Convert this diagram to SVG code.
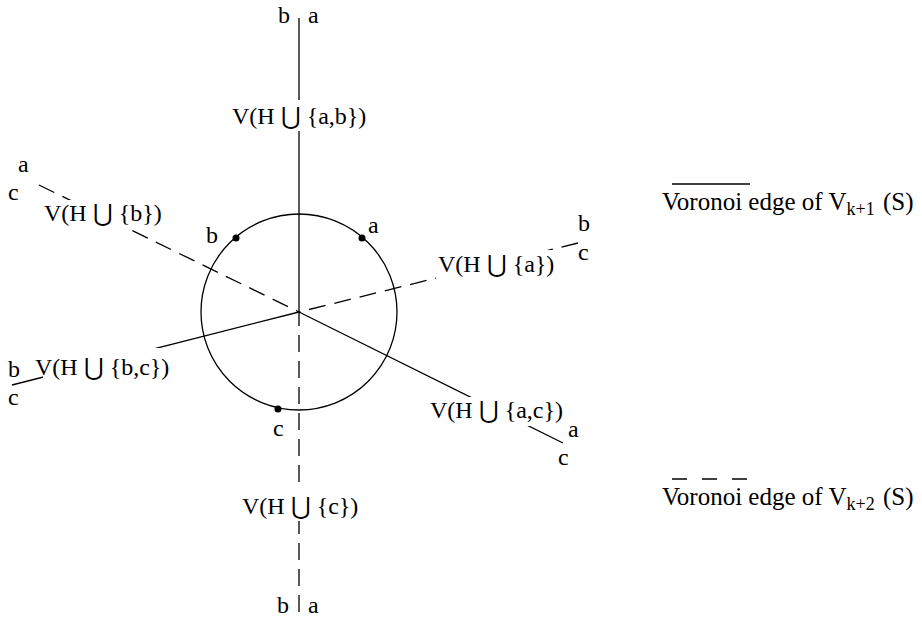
<svg xmlns="http://www.w3.org/2000/svg" width="922" height="618" viewBox="0 0 922 618">
<style>
.t{font-family:'Liberation Serif','Times New Roman',serif;font-size:24px;fill:#000}
.u{font-family:'DejaVu Serif',serif;font-size:24px}
.lg{font-size:25px}
.sub{font-size:18px}
.solid{stroke:#000;stroke-width:1.3;fill:none}
.dash{stroke:#000;stroke-width:1.3;fill:none;stroke-dasharray:17 9}
.mask{fill:#fff;stroke:none}
</style>
<rect width="922" height="618" fill="#fff"/>
<g id="connectors">
<line class="solid" x1="299" y1="18" x2="299" y2="312"/>
<line class="dash" x1="299" y1="612" x2="299" y2="312"/>
<line class="dash" x1="39" y1="185" x2="299" y2="312"/>
<line class="dash" x1="578" y1="243" x2="299" y2="312"/>
<line class="solid" x1="12" y1="385" x2="299" y2="312"/>
<line class="solid" x1="563" y1="443" x2="299" y2="312"/>
</g>
<g id="circle">
<circle class="solid" cx="299" cy="312" r="98"/>
<circle cx="362" cy="238" r="3.5"/>
<circle cx="236" cy="238" r="3.5"/>
<circle cx="278" cy="409" r="3.5"/>
<text class="t" x="368" y="233">a</text>
<text class="t" x="206" y="243">b</text>
<text class="t" x="273" y="436">c</text>
</g>
<g id="label-ab">
<rect class="mask" x="230" y="100" width="138" height="31"/>
<text class="t" x="232" y="124">V(H <tspan class="u">⋃</tspan> {a,b})</text>
<text class="t" x="278" y="23">b</text>
<text class="t" x="308" y="23">a</text>
</g>
<g id="label-c">
<rect class="mask" x="240" y="490" width="118" height="31"/>
<text class="t" x="242" y="514">V(H <tspan class="u">⋃</tspan> {c})</text>
<text class="t" x="277" y="613">b</text>
<text class="t" x="308" y="613">a</text>
</g>
<g id="label-b">
<rect class="mask" x="55" y="200" width="108" height="28"/>
<text class="t" x="44" y="221">V(H <tspan class="u">⋃</tspan> {b})</text>
<text class="t" x="18" y="172">a</text>
<text class="t" x="8" y="200">c</text>
</g>
<g id="label-a">
<rect class="mask" x="436" y="250" width="120" height="29"/>
<text class="t" x="438" y="272">V(H <tspan class="u">⋃</tspan> {a})</text>
<text class="t" x="578" y="231">b</text>
<text class="t" x="578" y="260">c</text>
</g>
<g id="label-bc">
<rect class="mask" x="43" y="348" width="127" height="34"/>
<text class="t" x="35" y="375">V(H <tspan class="u">⋃</tspan> {b,c})</text>
<text class="t" x="8" y="377">b</text>
<text class="t" x="8" y="405">c</text>
</g>
<g id="label-ac">
<rect class="mask" x="430" y="397" width="133" height="29"/>
<text class="t" x="430" y="418">V(H <tspan class="u">⋃</tspan> {a,c})</text>
<text class="t" x="568" y="437">a</text>
<text class="t" x="558" y="465">c</text>
</g>
<g id="legend">
<line class="solid" x1="672" y1="184" x2="750" y2="184"/>
<text class="t lg" x="662" y="210">Voronoi edge of V<tspan class="sub" dy="5">k+1</tspan><tspan x="883" dy="-5">(S)</tspan></text>
<line class="solid" x1="672" y1="479" x2="750" y2="479" stroke-dasharray="15 15"/>
<text class="t lg" x="662" y="505">Voronoi edge of V<tspan class="sub" dy="5">k+2</tspan><tspan x="883" dy="-5">(S)</tspan></text>
</g>
</svg>
